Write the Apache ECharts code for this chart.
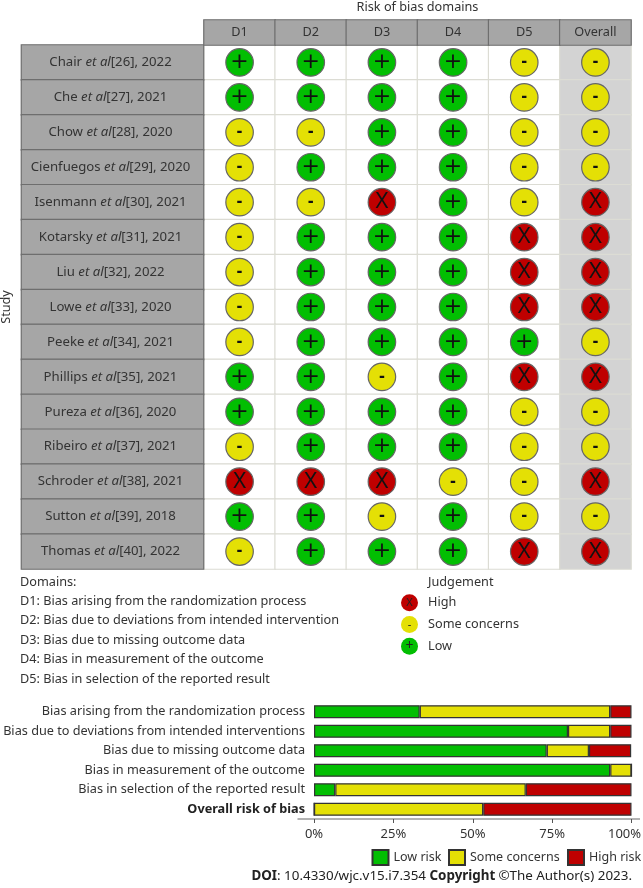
<!DOCTYPE html>
<html><head><meta charset="utf-8">
<style>html,body{margin:0;padding:0;background:#fff}#c{width:643px;height:888px}</style>
<script src="https://cdn.jsdelivr.net/npm/echarts@6/dist/echarts.min.js"></script>
</head><body><div id="c"></div>
<script>
const domains = ['D1','D2','D3','D4','D5','Overall'];
const studies = ['Chair','Che','Chow','Cienfuegos','Isenmann','Kotarsky','Liu','Lowe','Peeke','Phillips','Pureza','Ribeiro','Schroder','Sutton','Thomas'];
const refs = ['[26], 2022','[27], 2021','[28], 2020','[29], 2020','[30], 2021','[31], 2021','[32], 2022','[33], 2020','[34], 2021','[35], 2021','[36], 2020','[37], 2021','[38], 2021','[39], 2018','[40], 2022'];
const judgements = [
 '++++--','++++--','--++--','-+++--','--X+-X','-+++XX','-+++XX','-+++XX',
 '-++++-','++-+XX','++++--','-+++--','XXX--X','++-+--','-+++XX'];
const domainNotes = ['Domains:','D1: Bias arising from the randomization process','D2: Bias due to deviations from intended intervention','D3: Bias due to missing outcome data','D4: Bias in measurement of the outcome','D5: Bias in selection of the reported result'];
const judgeLevels = ['High','Some concerns','Low'];
const judgeMarks = ['X','-','+'];
const barCats = ['Bias arising from the randomization process','Bias due to deviations from intended interventions','Bias due to missing outcome data','Bias in measurement of the outcome','Bias in selection of the reported result','Overall risk of bias'];
const lowRisk = [33.3,80,73.3,93.3,6.7,0];
const someRisk = [60,13.3,13.3,6.7,60,53.3];
const highRisk = [6.7,6.7,13.3,0,33.3,46.7];
const riskNames = ['Low risk','Some concerns','High risk'];

const FONT='"Noto Sans"', TXT='#333', FS=12.7, SFS=13.2, DFS=13.4;
const GREEN='#02BE02', YELLOW='#E4E005', RED='#BF0000';
const colorOf={'+':GREEN,'-':YELLOW,'X':RED};
const markStyle={
 '+':{fontSize:22,fontWeight:400,fontFamily:'"DejaVu Sans"',lineHeight:22},
 '-':{fontSize:17,fontWeight:700,fontFamily:FONT,lineHeight:17},
 'X':{fontSize:22,fontWeight:400,fontFamily:FONT,lineHeight:22}};
const chart=echarts.init(document.getElementById('c'));
const noAxis={axisLine:{show:false},axisTick:{show:false},axisLabel:{show:false},splitLine:{show:false}};
const cells=[];
studies.forEach((s,r)=>domains.forEach((d,c)=>cells.push([c,r,c===5?1:0])));
const markSeries=judgeMarks.map(m=>{
  const pts=[];
  judgements.forEach((row,r)=>[...row].forEach((v,c)=>{if(v===m)pts.push([c,r]);}));
  return {type:'scatter',xAxisIndex:0,yAxisIndex:0,data:pts,symbolSize:27.5,z:5,
    itemStyle:{color:colorOf[m],opacity:1,borderColor:'#666',borderWidth:1.2},
    label:{show:true,position:'inside',formatter:m,color:'#111',...markStyle[m]}};
});
const G={outerBoundsMode:'none'};
const barBorder={borderColor:'#333',borderWidth:1.2};
chart.setOption({
 animation:false,backgroundColor:'#fff',textStyle:{fontFamily:FONT,color:TXT},
 grid:[
  {...G,left:204,top:45,width:427,height:524},
  {...G,left:21.5,top:45,width:182,height:524},
  {...G,left:204,top:20,width:427,height:25},
  {...G,left:314,top:702,width:317.5,height:117},
  {...G,left:399,top:592,width:21,height:65}
 ],
 xAxis:[
  {gridIndex:0,type:'category',data:domains,...noAxis},
  {gridIndex:1,type:'category',data:['Study'],...noAxis},
  {gridIndex:2,type:'category',data:domains,...noAxis,name:'Risk of bias domains',nameLocation:'middle',nameGap:6,position:'top',
    nameTextStyle:{fontSize:FS,color:TXT,fontFamily:FONT}},
  {gridIndex:3,type:'value',min:0,max:100,interval:25,
    axisLine:{show:false},axisTick:{show:true,length:4,lineStyle:{color:'#555'}},
    axisLabel:{fontSize:13,color:TXT,margin:9,fontFamily:FONT,
      formatter:v=>v===100?'{m|100%}':v+'%',rich:{m:{fontSize:13,color:TXT,fontFamily:FONT,padding:[0,14,0,0]}}},splitLine:{show:false}},
  {gridIndex:4,type:'category',data:['j'],...noAxis}
 ],
 yAxis:[
  {gridIndex:0,type:'category',inverse:true,data:studies,...noAxis},
  {gridIndex:1,type:'category',inverse:true,data:studies,...noAxis,name:'Study',nameLocation:'middle',nameGap:9,nameRotate:90,
    nameTextStyle:{fontSize:FS,color:TXT,fontFamily:FONT}},
  {gridIndex:2,type:'category',data:['h'],...noAxis},
  {gridIndex:3,type:'category',inverse:true,data:barCats,axisLine:{show:false},axisTick:{show:false},splitLine:{show:false},
    axisLabel:{margin:9,fontSize:FS,color:TXT,fontFamily:FONT,
      formatter:(v)=>v===barCats[5]?'{b|'+v+'}':v,rich:{b:{fontWeight:700,fontSize:FS,color:'#222',fontFamily:FONT}}}},
  {gridIndex:4,type:'category',inverse:true,data:judgeLevels,position:'right',axisLine:{show:false},axisTick:{show:false},splitLine:{show:false},
    axisLabel:{show:true,margin:8,fontSize:FS,color:TXT,fontFamily:FONT}}
 ],
 legend:riskNames.map((n,i)=>({left:[371.5,448,567][i],top:849,itemWidth:16,itemHeight:15,padding:0,icon:'rect',data:[n],
   textStyle:{fontSize:12.5,color:TXT,fontFamily:FONT}})),
 series:[
  {type:'heatmap',xAxisIndex:0,yAxisIndex:0,data:cells,z:1,silent:true,
    itemStyle:{color:p=>p.value[2]?'#D3D3D3':'#fff',borderColor:'#DCDCD4',borderWidth:1.2}},
  {type:'heatmap',xAxisIndex:1,yAxisIndex:1,data:studies.map((s,i)=>[0,i,1]),z:1,silent:true,
    itemStyle:{color:'#A6A6A6',borderColor:'#6E6E6E',borderWidth:1.2},
    label:{show:true,color:TXT,fontSize:SFS,fontFamily:FONT,offset:[-2,0],
      formatter:p=>'{n|'+studies[p.value[1]]+' }{i|et al}{n|'+refs[p.value[1]]+'}',
      rich:{n:{fontSize:SFS,color:TXT,fontFamily:FONT},i:{fontSize:SFS,fontStyle:'italic',color:TXT,fontFamily:FONT}}}},
  {type:'heatmap',xAxisIndex:2,yAxisIndex:2,data:domains.map((d,i)=>[i,0,1]),z:1,silent:true,
    itemStyle:{color:'#A6A6A6',borderColor:'#6E6E6E',borderWidth:1.2},
    label:{show:true,color:TXT,fontSize:FS,fontFamily:FONT,formatter:p=>domains[p.value[0]]}},
  ...markSeries,
  {name:riskNames[0],type:'bar',stack:'r',xAxisIndex:3,yAxisIndex:3,data:lowRisk,barWidth:13,itemStyle:{color:GREEN,...barBorder}},
  {name:riskNames[1],type:'bar',stack:'r',xAxisIndex:3,yAxisIndex:3,data:someRisk,itemStyle:{color:YELLOW,...barBorder}},
  {name:riskNames[2],type:'bar',stack:'r',xAxisIndex:3,yAxisIndex:3,data:highRisk,itemStyle:{color:RED,...barBorder}},
  {type:'scatter',xAxisIndex:4,yAxisIndex:4,symbolSize:17,silent:true,z:5,
    data:judgeMarks.map((m,i)=>({value:['j',judgeLevels[i]],itemStyle:{color:colorOf[m],opacity:1},
      label:{show:true,position:'inside',formatter:m,color:'#222',fontSize:m==='+'?14:11,fontFamily:FONT}}))}
 ],
 graphic:[
  ...domainNotes.map((t,i)=>({type:'text',left:20,top:575.5+i*19.4,style:{text:t,fontSize:FS,fill:TXT,fontFamily:FONT}})),
  {type:'text',left:428,top:575.5,style:{text:'Judgement',fontSize:FS,fill:TXT,fontFamily:FONT}},
  {type:'line',shape:{x1:297.5,y1:819,x2:640,y2:819},style:{stroke:'#666',lineWidth:1}},
  {type:'text',right:11,top:870,style:{rich:{b:{fontWeight:700,fontSize:DFS,fill:'#222',fontFamily:FONT},n:{fontSize:DFS,fill:'#222',fontFamily:FONT}},
    text:'{b|DOI}{n|: 10.4330/wjc.v15.i7.354 }{b|Copyright} {n|©The Author(s) 2023.}',fontFamily:FONT}}
 ]
});
</script></body></html>
